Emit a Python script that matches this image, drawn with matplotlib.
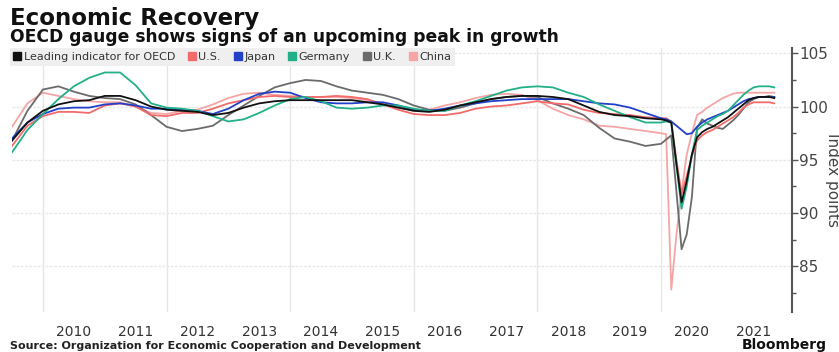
import matplotlib.pyplot as plt
from matplotlib.lines import Line2D
import numpy as np

# quarterly readings up to 2019, monthly from 2020 (decimal years)
quarters = [2009.5 + 0.25 * i for i in range(42)]
months = [2020 + i / 12 for i in range(23)]
dates = quarters + months

oecd = [96.8, 98.5, 99.6, 100.2, 100.5, 100.6, 101.0, 101.0, 100.6, 100.0,
        99.7, 99.6, 99.5, 99.2, 99.4, 99.9, 100.3, 100.5, 100.6, 100.6,
        100.6, 100.6, 100.6, 100.4, 100.2, 99.9, 99.6, 99.5, 99.7, 100.1,
        100.4, 100.7, 100.9, 101.0, 101.0, 100.9, 100.7, 100.1, 99.5, 99.2,
        99.1, 98.9,
        98.8, 98.7, 98.5, 94.6, 91.0, 93.0, 95.5, 97.1, 97.6, 97.9,
        98.1, 98.4, 98.7, 99.0, 99.4, 99.8, 100.2, 100.6, 100.8, 100.9,
        100.9, 100.9, 100.8]

us = [96.3, 98.2, 99.1, 99.5, 99.5, 99.4, 100.1, 100.3, 100.0, 99.2,
      99.1, 99.4, 99.4, 99.8, 100.3, 100.6, 100.9, 101.0, 100.9, 100.9,
      100.9, 101.0, 100.9, 100.7, 100.2, 99.7, 99.3, 99.2, 99.2, 99.4,
      99.8, 100.0, 100.1, 100.3, 100.5, 100.3, 100.2, 99.7, 99.4, 99.3,
      99.2, 99.0,
      98.9, 98.9, 98.6, 95.0, 91.8, 93.5, 95.3, 96.8, 97.3, 97.6,
      97.8, 98.1, 98.4, 98.7, 99.0, 99.4, 99.9, 100.2, 100.4, 100.4,
      100.4, 100.4, 100.3]

japan = [97.0, 98.5, 99.3, 99.8, 99.9, 99.9, 100.2, 100.3, 100.1, 99.8,
         99.8, 99.7, 99.6, 99.3, 99.8, 100.6, 101.2, 101.4, 101.3, 100.8,
         100.4, 100.3, 100.3, 100.4, 100.4, 100.1, 99.7, 99.6, 99.8, 100.1,
         100.3, 100.5, 100.6, 100.7, 100.7, 100.7, 100.7, 100.5, 100.3, 100.2,
         99.9, 99.4,
         98.9, 98.8, 98.6, 98.2, 97.8, 97.4, 97.5, 98.1, 98.5, 98.8,
         99.0, 99.2, 99.4, 99.6, 99.9, 100.2, 100.5, 100.7, 100.8, 100.9,
         100.9, 100.9, 100.9]

germany = [95.7, 97.8, 99.3, 100.7, 101.9, 102.7, 103.2, 103.2, 102.0, 100.3,
           99.9, 99.8, 99.6, 99.1, 98.6, 98.8, 99.4, 100.1, 100.7, 100.9,
           100.5, 99.9, 99.8, 99.9, 100.1, 100.1, 99.8, 99.6, 99.6, 100.1,
           100.5, 101.0, 101.5, 101.8, 101.9, 101.8, 101.3, 100.9, 100.2, 99.6,
           99.0, 98.5,
           98.5, 98.6, 98.5, 94.5, 90.4, 92.5, 95.5, 97.8, 98.2, 98.5,
           98.8, 99.1, 99.3, 99.6, 100.1, 100.6, 101.1, 101.5, 101.8, 101.9,
           101.9, 101.9, 101.8]

uk = [96.8, 99.6, 101.6, 101.9, 101.4, 101.0, 100.8, 100.7, 100.2, 99.2,
      98.1, 97.7, 97.9, 98.2, 99.2, 100.1, 101.0, 101.8, 102.2, 102.5,
      102.4, 101.9, 101.5, 101.3, 101.1, 100.7, 100.1, 99.7, 99.6, 99.9,
      100.3, 100.7, 100.9, 101.0, 100.9, 100.3, 99.8, 99.2, 98.0, 97.0,
      96.7, 96.3,
      96.5, 96.9, 97.3, 92.0, 86.6, 88.0, 91.5, 98.0, 98.8, 98.4,
      98.2, 98.0, 97.9, 98.3, 98.7, 99.2, 99.8, 100.4, 100.7, 100.9,
      100.9, 101.0, 100.9]

china = [98.1, 100.3, 101.3, 101.0, 100.7, 100.5, 100.4, 100.4, 100.0, 99.4,
         99.3, 99.6, 99.7, 100.2, 100.8, 101.2, 101.3, 101.1, 101.0, 100.9,
         100.9, 100.9, 100.8, 100.6, 100.3, 99.9, 99.6, 99.7, 100.1, 100.4,
         100.8, 101.1, 101.2, 101.1, 100.6, 99.8, 99.2, 98.8, 98.2, 98.1,
         97.9, 97.7,
         97.5, 97.4, 82.8, 88.0, 92.0, 95.5, 97.5, 99.2, 99.5, 99.9,
         100.2, 100.5, 100.8, 101.0, 101.2, 101.3, 101.3, 101.3, 101.3, 101.3,
         101.3, 101.3, 101.3]

names = ['Leading indicator for OECD', 'U.S.', 'Japan', 'Germany', 'U.K.', 'China']
colors = ['#111111', '#f26b6b', '#2241c8', '#22b088', '#6b6b6b', '#f5a5a5']
series = [china, uk, us, japan, germany, oecd]
order = [5, 4, 1, 2, 3, 0]  # draw China first, OECD on top

fig = plt.figure(figsize=(8.39, 3.52), dpi=100)
ax = fig.add_axes([0.0143, 0.1136, 0.9297, 0.75])

for vals, idx in zip(series, order):
    ax.plot(dates, vals, color=colors[idx], lw=1.3, solid_joinstyle='round')

ax.set_xlim(2009.5, 2022.12)
ax.set_ylim(80.7, 105.5)

year_labels = [str(y) for y in range(2010, 2022)]
ax.set_xticks([y + 0.5 for y in range(2010, 2022)])
ax.set_xticklabels(year_labels)
ax.set_xticks(range(2010, 2022, 2), minor=True)
ax.tick_params(axis='x', which='both', length=0, labelsize=10, colors='#333333', pad=9)

ax.yaxis.tick_right()
ax.set_yticks([85, 90, 95, 100, 105])
ax.set_yticks([82.5, 87.5, 92.5, 97.5, 102.5], minor=True)
ax.tick_params(axis='y', which='major', length=4, width=1, colors='#555555',
               labelsize=11, labelcolor='#444444', pad=1)
ax.tick_params(axis='y', which='minor', length=3, width=1, colors='#555555')
ax.yaxis.set_label_position('right')
ax.set_ylabel('Index points', rotation=270, fontsize=11, color='#444444', labelpad=9)

ax.grid(axis='x', which='minor', color='#e6e6e6', lw=1)
ax.grid(axis='y', which='major', color='#e8e8e8', lw=1, ls=(0, (2, 1)))
for side in ['top', 'left', 'bottom']:
    ax.spines[side].set_visible(False)
ax.spines['right'].set_color('#555555')
ax.spines['right'].set_linewidth(1.5)

handles = [Line2D([], [], marker='s', ls='', color=c, markersize=6) for c in colors]
leg = ax.legend(handles, names, loc='upper left', bbox_to_anchor=(-0.003, 1.0),
                ncol=6, fontsize=8, frameon=True, fancybox=False,
                handlelength=0.7, handletextpad=0.2, columnspacing=1.2,
                borderpad=0.35, borderaxespad=0)
leg.get_frame().set_facecolor('#efefef')
leg.get_frame().set_edgecolor('none')
leg.get_frame().set_alpha(1)
for t in leg.get_texts():
    t.set_color('#333333')

fig.text(0.012, 0.93, 'Economic Recovery', fontsize=16.5, fontweight='bold', color='#111111')
fig.text(0.012, 0.88, 'OECD gauge shows signs of an upcoming peak in growth',
         fontsize=12.3, fontweight='bold', color='#111111')
fig.text(0.012, 0.008, 'Source: Organization for Economic Cooperation and Development',
         fontsize=8, fontweight='bold', color='#222222')
fig.text(0.985, 0.008, 'Bloomberg', fontsize=10, fontweight='bold', color='#111111', ha='right')

fig.savefig('out.png', dpi=100)
